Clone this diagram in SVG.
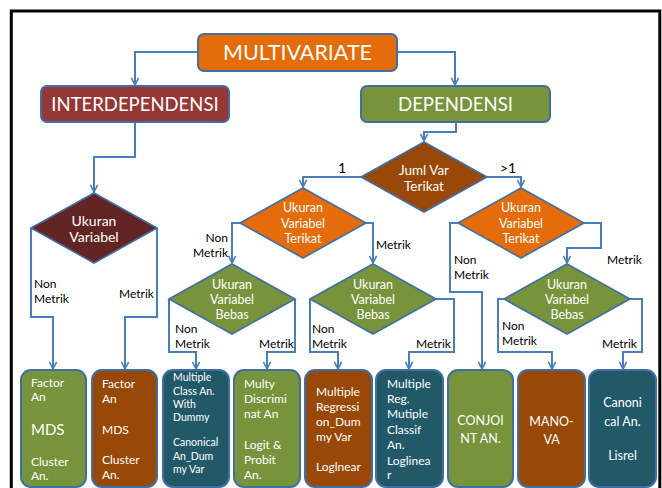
<svg xmlns="http://www.w3.org/2000/svg" width="662" height="488" viewBox="0 0 662 488">
<defs>
<style>
.box{stroke:#3F6FA3;stroke-width:2}
.dia{stroke:#3F6FA3;stroke-width:1.6}
.or{fill:#E46C0A}.gr{fill:#77933C}.br{fill:#984807}.tl{fill:#215968}.mr{fill:#953735}.dm{fill:#632523}
.con{fill:none;stroke:#4A7EBB;stroke-width:2;marker-end:url(#arr)}
text{font-family:Lato,"Liberation Sans",sans-serif}
.w{fill:#fff}
.lb{fill:#000;font-size:12px}
.big{fill:#000;font-size:14px}
.t{font-size:12px}
.c{text-anchor:middle}
</style>
<marker id="arr" viewBox="0 0 10 10" refX="9" refY="5" markerWidth="9" markerHeight="9" markerUnits="userSpaceOnUse" orient="auto">
<path d="M1,1 L9,5 L1,9" fill="none" stroke="#4A7EBB" stroke-width="1.8"/>
</marker>
</defs>
<rect x="0" y="0" width="662" height="488" fill="#fff"/>
<rect x="11.3" y="11" width="648.5" height="492" fill="none" stroke="#000" stroke-width="3"/>

<g id="connectors">
<path class="con" d="M198,52 H135 V85"/>
<path class="con" d="M397,52 H455 V85"/>
<path class="con" d="M135,122 V157 H94 V192"/>
<path class="con" d="M456,122 V132 H424 V141"/>
<path class="con" d="M31,228 V317 H53 V369"/>
<path class="con" d="M157,228 V317 H125 V369"/>
<path class="con" d="M361,177 H303 V187"/>
<path class="con" d="M487,177 H521 V187"/>
<path class="con" d="M240,223 H232 V263"/>
<path class="con" d="M366,223 H373 V263"/>
<path class="con" d="M169,299 V352 H196 V369"/>
<path class="con" d="M295,299 V352 H267 V369"/>
<path class="con" d="M310,299 V352 H338 V369"/>
<path class="con" d="M436,299 H454 V352 H409 V369"/>
<path class="con" d="M458,223 H450 V292 H482 V369"/>
<path class="con" d="M584,223 H601 V248 H567 V263"/>
<path class="con" d="M504,299 H498 V352 H552 V369"/>
<path class="con" d="M630,299 H642 V352 H623 V369"/>
</g>

<g id="labels">
<text class="big" x="338" y="173">1</text>
<text class="big" x="500" y="173">&gt;1</text>
<text class="lb" x="34" y="288">Non</text>
<text class="lb" x="34" y="303">Metrik</text>
<text class="lb" x="119" y="298">Metrik</text>
<text class="lb" x="228" y="242" text-anchor="end">Non</text>
<text class="lb" x="228" y="257" text-anchor="end">Metrik</text>
<text class="lb" x="376" y="249">Metrik</text>
<text class="lb" x="175" y="333">Non</text>
<text class="lb" x="175" y="348">Metrik</text>
<text class="lb" x="259" y="348">Metrik</text>
<text class="lb" x="312" y="333">Non</text>
<text class="lb" x="312" y="348">Metrik</text>
<text class="lb" x="416" y="348">Metrik</text>
<text class="lb" x="454" y="264">Non</text>
<text class="lb" x="454" y="279">Metrik</text>
<text class="lb" x="607" y="264">Metrik</text>
<text class="lb" x="502" y="330">Non</text>
<text class="lb" x="502" y="345">Metrik</text>
<text class="lb" x="602" y="348">Metrik</text>
</g>

<g id="multivariate">
<rect class="box or" x="198" y="34" width="199" height="37" rx="6"/>
<text class="w c" x="297.5" y="60" font-size="21" textLength="149" lengthAdjust="spacingAndGlyphs">MULTIVARIATE</text>
</g>
<g id="interdependensi">
<rect class="box mr" x="41" y="86" width="188" height="36" rx="6"/>
<text class="w c" x="135" y="111" font-size="18.5">INTERDEPENDENSI</text>
</g>
<g id="dependensi">
<rect class="box gr" x="361" y="86" width="189" height="36" rx="6"/>
<text class="w c" x="455.5" y="111" font-size="18.5">DEPENDENSI</text>
</g>

<g id="d-ukuran-variabel">
<polygon class="dia dm" points="31,228 94,193 157,228 94,263"/>
<text class="w c" x="94" y="226" font-size="14">Ukuran</text>
<text class="w c" x="94" y="242" font-size="14">Variabel</text>
</g>
<g id="d-juml-var">
<polygon class="dia br" points="361,177 424,142 487,177 424,212"/>
<text class="w c" x="424" y="175" font-size="13.5">Juml Var</text>
<text class="w c" x="424" y="191" font-size="13.5">Terikat</text>
</g>
<g id="d-terikat-1">
<polygon class="dia or" points="240,223 303,188 366,223 303,258"/>
<text class="w c" x="303" y="212" font-size="12.5">Ukuran</text>
<text class="w c" x="303" y="228" font-size="12.5">Variabel</text>
<text class="w c" x="303" y="243" font-size="12.5">Terikat</text>
</g>
<g id="d-terikat-2">
<polygon class="dia or" points="458,223 521,188 584,223 521,258"/>
<text class="w c" x="521" y="212" font-size="12.5">Ukuran</text>
<text class="w c" x="521" y="228" font-size="12.5">Variabel</text>
<text class="w c" x="521" y="243" font-size="12.5">Terikat</text>
</g>
<g id="d-bebas-1">
<polygon class="dia gr" points="169,299 232,264 295,299 232,334"/>
<text class="w c" x="232" y="289" font-size="12.5">Ukuran</text>
<text class="w c" x="232" y="304" font-size="12.5">Variabel</text>
<text class="w c" x="232" y="319" font-size="12.5">Bebas</text>
</g>
<g id="d-bebas-2">
<polygon class="dia gr" points="310,299 373,264 436,299 373,334"/>
<text class="w c" x="373" y="289" font-size="12.5">Ukuran</text>
<text class="w c" x="373" y="304" font-size="12.5">Variabel</text>
<text class="w c" x="373" y="319" font-size="12.5">Bebas</text>
</g>
<g id="d-bebas-3">
<polygon class="dia gr" points="504,299 567,264 630,299 567,334"/>
<text class="w c" x="567" y="289" font-size="12.5">Ukuran</text>
<text class="w c" x="567" y="304" font-size="12.5">Variabel</text>
<text class="w c" x="567" y="319" font-size="12.5">Bebas</text>
</g>

<g id="b1">
<rect class="box gr" x="21" y="370" width="65" height="117" rx="10"/>
<text class="w t" x="31" y="387">Factor</text>
<text class="w t" x="31" y="401">An</text>
<text class="w" x="31" y="435" font-size="15">MDS</text>
<text class="w t" x="31" y="466">Cluster</text>
<text class="w t" x="31" y="480">An.</text>
</g>
<g id="b2">
<rect class="box br" x="92" y="370" width="65" height="117" rx="10"/>
<text class="w t" x="102" y="388">Factor</text>
<text class="w t" x="102" y="403">An</text>
<text class="w t" x="102" y="434">MDS</text>
<text class="w t" x="102" y="464">Cluster</text>
<text class="w t" x="102" y="479">An.</text>
</g>
<g id="b3">
<rect class="box tl" x="163" y="370" width="66" height="117" rx="10"/>
<text class="w" font-size="10.5" x="173" y="381">Multiple</text>
<text class="w" font-size="10.5" x="173" y="394.5">Class An.</text>
<text class="w" font-size="10.5" x="173" y="407.5">With</text>
<text class="w" font-size="10.5" x="173" y="421">Dummy</text>
<text class="w" font-size="10.5" x="173" y="446">Canonical</text>
<text class="w" font-size="10.5" x="173" y="459.5">An_Dum</text>
<text class="w" font-size="10.5" x="173" y="472.5">my Var</text>
</g>
<g id="b4">
<rect class="box gr" x="234" y="370" width="66" height="117" rx="10"/>
<text class="w t" x="244" y="388">Multy</text>
<text class="w t" x="244" y="403">Discrimi</text>
<text class="w t" x="244" y="418">nat An</text>
<text class="w t" x="244" y="449">Logit &amp;</text>
<text class="w t" x="244" y="464">Probit</text>
<text class="w t" x="244" y="479">An.</text>
</g>
<g id="b5">
<rect class="box br" x="305" y="370" width="67" height="117" rx="10"/>
<text class="w t" x="316" y="396">Multiple</text>
<text class="w t" x="316" y="411">Regressi</text>
<text class="w t" x="316" y="426">on_Dum</text>
<text class="w t" x="316" y="441">my Var</text>
<text class="w t" x="316" y="471">Loglnear</text>
</g>
<g id="b6">
<rect class="box tl" x="376" y="370" width="67" height="117" rx="10"/>
<text class="w t" x="387" y="388">Multiple</text>
<text class="w t" x="387" y="403">Reg.</text>
<text class="w t" x="387" y="418">Mutiple</text>
<text class="w t" x="387" y="434">Classif</text>
<text class="w t" x="387" y="449">An.</text>
<text class="w t" x="387" y="465">Loglinea</text>
<text class="w t" x="387" y="479">r</text>
</g>
<g id="b7">
<rect class="box gr" x="448" y="370" width="65" height="117" rx="10"/>
<text class="w c" font-size="12.5" x="480.5" y="425">CONJOI</text>
<text class="w c" font-size="12.5" x="480.5" y="443">NT AN.</text>
</g>
<g id="b8">
<rect class="box br" x="518" y="370" width="67" height="117" rx="10"/>
<text class="w c" font-size="12.5" x="551.5" y="426">MANO-</text>
<text class="w c" font-size="12.5" x="551.5" y="444">VA</text>
</g>
<g id="b9">
<rect class="box tl" x="589" y="370" width="67" height="117" rx="10"/>
<text class="w c" font-size="12.5" x="622.5" y="407">Canoni</text>
<text class="w c" font-size="12.5" x="622.5" y="426">cal An.</text>
<text class="w c" font-size="12.5" x="622.5" y="460">Lisrel</text>
</g>
</svg>
